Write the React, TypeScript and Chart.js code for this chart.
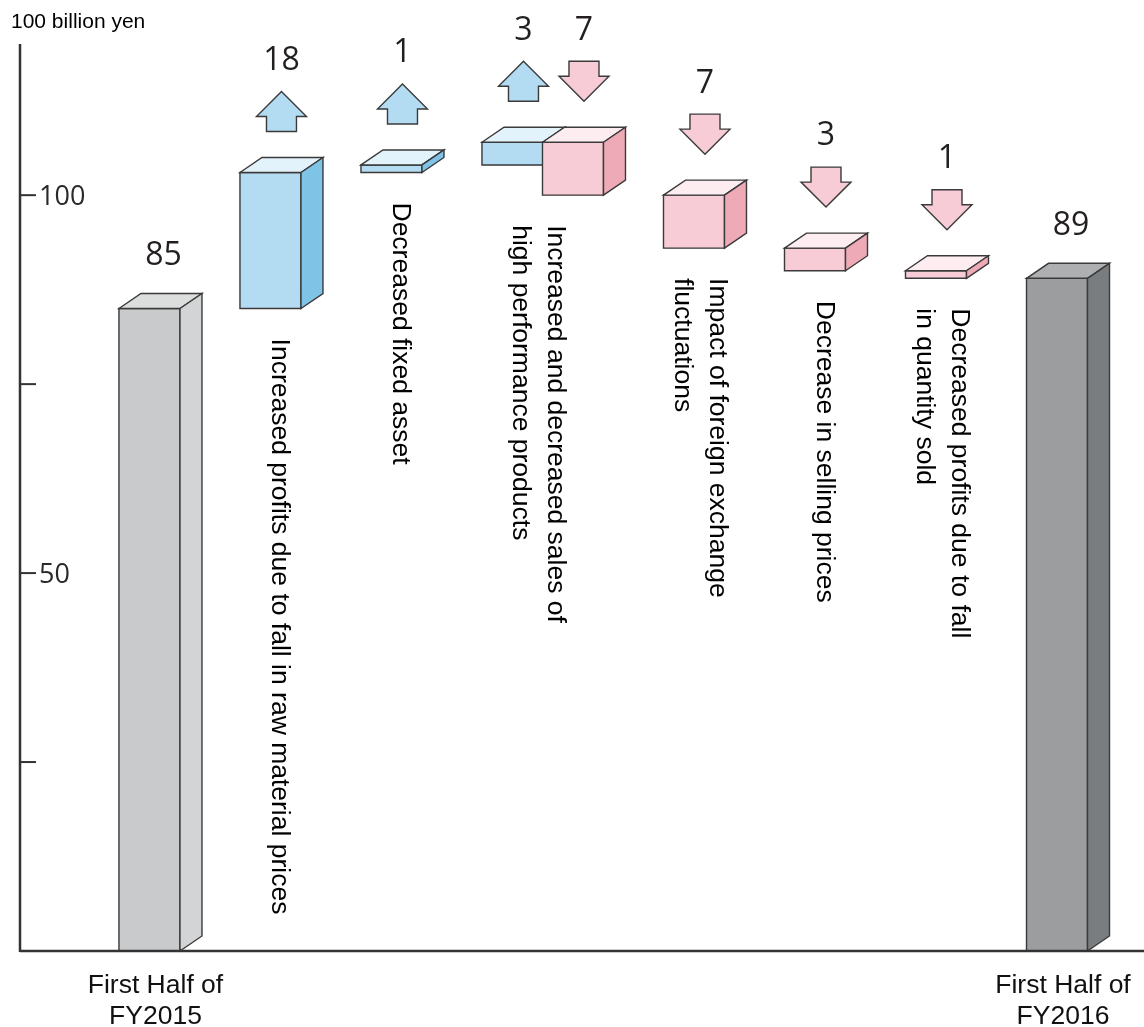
import React, { useEffect, useRef } from 'react';
import { Chart, registerables } from 'chart.js';

Chart.register(...registerables);

// ---------- data ----------
const UNIT_TITLE = '100 billion yen';
const START_LABEL = ['First Half of', 'FY2015'];
const END_LABEL = ['First Half of', 'FY2016'];
const START_VALUE = 85;
const END_VALUE = 89;
const CHANGE_VALUES = [18, 1, 3, -7, -7, -3, -1];
const CHANGE_GROUP = [0, 1, 2, 2, 3, 4, 5];
const CHANGE_LABELS = [
  ['Increased profits due to fall in raw material prices'],
  ['Decreased fixed asset'],
  ['Increased and decreased sales of', 'high performance products'],
  ['Impact of foreign exchange', 'fluctuations'],
  ['Decrease in selling prices'],
  ['Decreased profits due to fall', 'in quantity sold'],
];
const BAR_POSITIONS = [0, 1, 2, 3, 3.5, 4.5, 5.5, 6.5, 7.5];
const Y_TICK_VALUES = [25, 50, 75, 100];
const Y_TICK_LABELS = ['', '50', '', '100'];
const Y_MAX = 120;

// ---------- styles ----------
const DX = 22;
const DY = 15;
const STROKE = '#3a3a3a';
const PALETTES: Record<string, { front: string; top: string; side: string }> = {
  start: { front: '#c9cacb', top: '#dcdddd', side: '#d3d4d5' },
  up: { front: '#b3dbf1', top: '#e3f3fb', side: '#7fc3e6' },
  down: { front: '#f7ccd6', top: '#fdecf0', side: '#efaab7' },
  end: { front: '#9b9d9e', top: '#adafb0', side: '#7a7d7f' },
};
const LABEL_FONT = '26.5px "Liberation Sans", Arial, sans-serif';
const NUM_FONT = '32px "Open Sans", "Noto Sans", sans-serif';
const TICK_FONT = '27px "Open Sans", "Noto Sans", sans-serif';

type Bar = { x: number; y: [number, number]; kind: string; value: number };

function buildBars(): Bar[] {
  const bars: Bar[] = [];
  bars.push({ x: BAR_POSITIONS[0], y: [0, START_VALUE], kind: 'start', value: START_VALUE });
  let run = START_VALUE;
  CHANGE_VALUES.forEach((v, i) => {
    const next = run + v;
    bars.push({ x: BAR_POSITIONS[i + 1], y: [run, next], kind: v >= 0 ? 'up' : 'down', value: v });
    run = next;
  });
  bars.push({ x: BAR_POSITIONS[BAR_POSITIONS.length - 1], y: [0, END_VALUE], kind: 'end', value: END_VALUE });
  return bars;
}

function poly(ctx: CanvasRenderingContext2D, pts: number[][], fill: string) {
  ctx.beginPath();
  ctx.moveTo(pts[0][0], pts[0][1]);
  for (let i = 1; i < pts.length; i++) ctx.lineTo(pts[i][0], pts[i][1]);
  ctx.closePath();
  ctx.fillStyle = fill;
  ctx.fill();
  ctx.stroke();
}

export default function App() {
  const ref = useRef<HTMLCanvasElement | null>(null);

  useEffect(() => {
    const canvas = ref.current;
    if (!canvas) return;
    const bars = buildBars();

    const plugin = {
      id: 'waterfall3d',
      afterDatasetsDraw(chart: any) {
        const ctx: CanvasRenderingContext2D = chart.ctx;
        const meta = chart.getDatasetMeta(0);
        const area = chart.chartArea;
        const yScale = chart.scales.y;
        const geo = meta.data.map((el: any) => {
          const p = el.getProps(['x', 'y', 'base', 'width'], true);
          return {
            cx: p.x,
            l: p.x - p.width / 2,
            r: p.x + p.width / 2,
            t: Math.min(p.y, p.base),
            b: Math.max(p.y, p.base),
          };
        });

        ctx.save();
        ctx.lineWidth = 1.4;
        ctx.strokeStyle = STROKE;
        ctx.lineJoin = 'miter';
        // 3D blocks
        geo.forEach((g: any, i: number) => {
          const pal = PALETTES[bars[i].kind];
          poly(ctx, [[g.l, g.t], [g.r, g.t], [g.r, g.b], [g.l, g.b]], pal.front);
          poly(ctx, [[g.l, g.t], [g.l + DX, g.t - DY], [g.r + DX, g.t - DY], [g.r, g.t]], pal.top);
          poly(ctx, [[g.r, g.t], [g.r + DX, g.t - DY], [g.r + DX, g.b - DY], [g.r, g.b]], pal.side);
        });

        // axes
        ctx.strokeStyle = '#333';
        ctx.lineWidth = 2.5;
        ctx.beginPath();
        ctx.moveTo(area.left, yScale.getPixelForValue(Y_MAX));
        ctx.lineTo(area.left, area.bottom + 1);
        ctx.moveTo(area.left, area.bottom);
        ctx.lineTo(chart.width, area.bottom);
        ctx.stroke();
        ctx.lineWidth = 2;
        ctx.font = TICK_FONT;
        ctx.fillStyle = '#2a2a2a';
        ctx.textAlign = 'left';
        ctx.textBaseline = 'alphabetic';
        Y_TICK_VALUES.forEach((v, i) => {
          const py = yScale.getPixelForValue(v);
          ctx.beginPath();
          ctx.moveTo(area.left, py);
          ctx.lineTo(area.left + 16, py);
          ctx.stroke();
          if (Y_TICK_LABELS[i]) ctx.fillText(Y_TICK_LABELS[i], area.left + 19, py + 0.357 * 27);
        });

        // arrows + numbers
        ctx.lineWidth = 1.4;
        ctx.strokeStyle = STROKE;
        geo.forEach((g: any, i: number) => {
          const bar = bars[i];
          const bc = g.cx + DX / 2;
          ctx.font = NUM_FONT;
          ctx.fillStyle = '#231f20';
          ctx.textAlign = 'center';
          if (bar.kind === 'start' || bar.kind === 'end') {
            ctx.fillText(String(bar.value), bc + 3, g.t - 55 + 0.357 * 32);
            return;
          }
          const aBottom = g.t - DY - 26;
          const aTop = aBottom - 40;
          if (bar.kind === 'up') {
            poly(ctx, [
              [bc, aTop], [bc + 25, aTop + 25], [bc + 15, aTop + 25], [bc + 15, aBottom],
              [bc - 15, aBottom], [bc - 15, aTop + 25], [bc - 25, aTop + 25],
            ], PALETTES.up.front);
          } else {
            poly(ctx, [
              [bc - 15, aTop], [bc + 15, aTop], [bc + 15, aTop + 15], [bc + 25, aTop + 15],
              [bc, aBottom], [bc - 25, aTop + 15], [bc - 15, aTop + 15],
            ], PALETTES.down.front);
          }
          ctx.fillStyle = '#231f20';
          ctx.fillText(String(Math.abs(bar.value)), bc, aTop - 33 + 0.357 * 32);
        });

        // rotated change labels
        ctx.font = LABEL_FONT;
        ctx.fillStyle = '#000';
        ctx.textAlign = 'left';
        ctx.textBaseline = 'alphabetic';
        CHANGE_LABELS.forEach((lines, gi) => {
          const idx: number[] = [];
          CHANGE_GROUP.forEach((grp, ci) => { if (grp === gi) idx.push(ci + 1); });
          const gs = idx.map((k) => geo[k]);
          const minL = Math.min(...gs.map((g: any) => g.l));
          const maxR = Math.max(...gs.map((g: any) => g.r));
          const maxB = Math.max(...gs.map((g: any) => g.b));
          let anchor = (minL + maxR) / 2 + (idx.length === 1 ? DX / 2 : 0);
          if (lines.length > 1) anchor -= 3;
          const n = lines.length;
          lines.forEach((line, li) => {
            const bx = anchor - 9.3 + ((n - 1) / 2 - li) * 35;
            ctx.save();
            ctx.translate(bx, maxB + 30);
            ctx.rotate(Math.PI / 2);
            ctx.fillText(line, 0, 0);
            ctx.restore();
          });
        });

        // bottom labels
        ctx.textAlign = 'center';
        ctx.fillStyle = '#111';
        const first = geo[0];
        const last = geo[geo.length - 1];
        [[first, START_LABEL], [last, END_LABEL]].forEach(([g, lines]: any) => {
          lines.forEach((line: string, li: number) => {
            ctx.fillText(line, g.cx + 6, area.bottom + 42 + li * 31);
          });
        });

        // unit title
        ctx.textAlign = 'left';
        ctx.font = '21px "Liberation Sans", Arial, sans-serif';
        ctx.fillStyle = '#000';
        ctx.fillText(UNIT_TITLE, 11, 28);
        ctx.restore();
      },
    };

    const chart = new Chart(canvas, {
      type: 'bar',
      data: {
        datasets: [
          {
            data: bars.map((b) => ({ x: b.x, y: b.y })) as any,
            backgroundColor: bars.map((b) => PALETTES[b.kind].front),
            borderWidth: 0,
            barThickness: 61,
          },
        ],
      },
      options: {
        responsive: false,
        animation: false,
        devicePixelRatio: 1,
        events: [],
        layout: { padding: { left: 20, right: 0, top: 44, bottom: 76 } },
        plugins: { legend: { display: false }, tooltip: { enabled: false }, title: { display: false } },
        scales: {
          x: { type: 'linear', min: -1.07, max: 8.219, offset: false, display: false },
          y: { type: 'linear', min: 0, max: Y_MAX, display: false },
        },
      },
      plugins: [plugin],
    });
    return () => chart.destroy();
  }, []);

  return (
    <div style={{ position: 'absolute', left: 0, top: 0, width: 1144, height: 1027, background: '#fff' }}>
      <canvas ref={ref} width={1144} height={1027} style={{ display: 'block', width: 1144, height: 1027 }} />
    </div>
  );
}
